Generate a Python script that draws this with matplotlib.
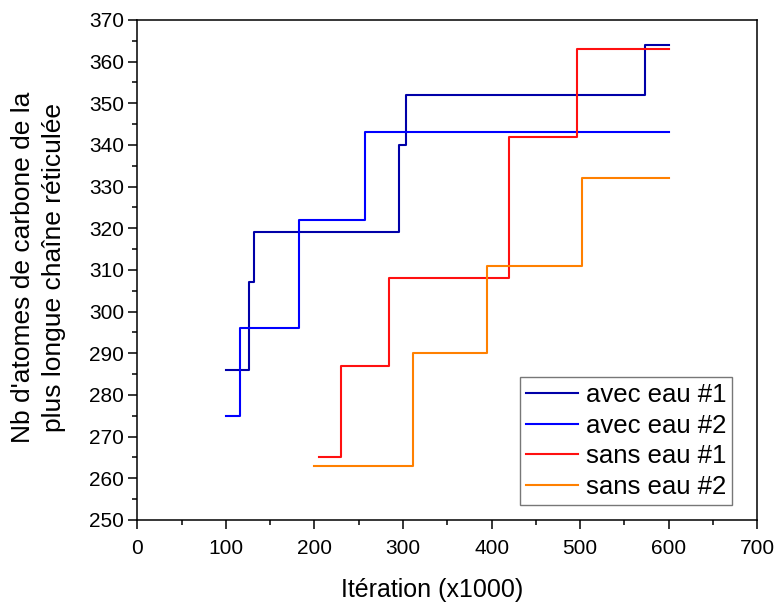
import numpy as np
import matplotlib.pyplot as plt
from matplotlib.ticker import MultipleLocator

plt.rcParams["font.family"] = ["Liberation Sans", "DejaVu Sans"]

# step change points (x in thousands of iterations)
avec1_x = [100, 126, 132, 295, 303, 573, 600]
avec1_y = [286, 307, 319, 340, 352, 364, 364]
avec2_x = [100, 116, 182, 257, 600]
avec2_y = [275, 296, 322, 343, 343]
sans1_x = [205, 230, 284, 420, 497, 600]
sans1_y = [265, 287, 308, 342, 363, 363]
sans2_x = [200, 311, 395, 502, 600]
sans2_y = [263, 290, 311, 332, 332]

labels = ["avec eau #1", "avec eau #2", "sans eau #1", "sans eau #2"]
colors = ["#0000a8", "#0000ff", "#ff1010", "#ff8000"]

fig = plt.figure(figsize=(7.74, 6.05), dpi=100)
ax = fig.add_axes([0.1774, 0.1405, 0.8010, 0.8265])

series = [(avec1_x, avec1_y), (avec2_x, avec2_y), (sans1_x, sans1_y), (sans2_x, sans2_y)]
for (xs, ys), lab, c in zip(series, labels, colors):
    ax.plot(xs, ys, drawstyle="steps-post", color=c, lw=1.5, label=lab)

ax.set_xlim(0, 700)
ax.set_ylim(250, 370)
ax.xaxis.set_major_locator(MultipleLocator(100))
ax.xaxis.set_minor_locator(MultipleLocator(50))
ax.yaxis.set_major_locator(MultipleLocator(10))
ax.yaxis.set_minor_locator(MultipleLocator(5))
ax.tick_params(which="major", direction="out", length=6.5, width=1.1,
               labelsize=15, pad=3)
ax.tick_params(axis="x", which="major", pad=7)
ax.tick_params(which="minor", direction="out", length=3.5, width=1.1)
for s in ax.spines.values():
    s.set_linewidth(1.1)

ax.set_xlabel("Itération (x1000)", fontsize=18)
ax.xaxis.set_label_coords(0.475, -0.115)
ax.set_ylabel("Nb d'atomes de carbone de la\nplus longue chaîne réticulée",
              fontsize=19, linespacing=1.38)
ax.yaxis.set_label_coords(-0.115, 0.505)

leg = ax.legend(loc="lower right", bbox_to_anchor=(0.96, 0.03), fontsize=18.5,
                frameon=True, fancybox=False, handlelength=2.0,
                handletextpad=0.3, labelspacing=0.25, borderpad=0.25,
                borderaxespad=0)
leg.get_frame().set_edgecolor("#555555")
leg.get_frame().set_linewidth(1.0)

fig.savefig("out.png", dpi=100)
